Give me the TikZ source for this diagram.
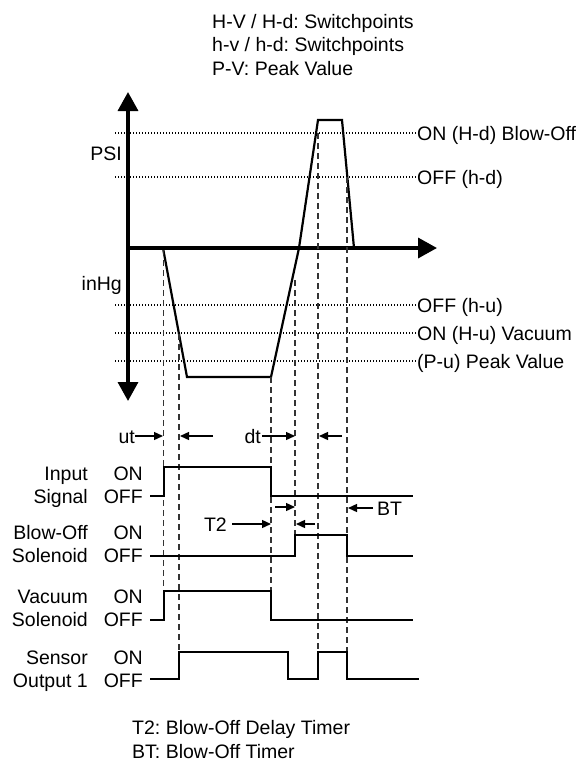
\documentclass[tikz,border=0pt]{standalone}
\usepackage{fontspec}
\setmainfont{Liberation Sans}
\frenchspacing
\usetikzlibrary{arrows.meta}
\tikzset{
  lbl/.style={font=\fontsize{19.5}{22.5}\selectfont, inner sep=0pt, text height=14pt, text depth=0pt},
  rowlbl/.style={font=\fontsize{19.5}{22.5}\selectfont, inner sep=0pt, align=right, anchor=base east},
  legend/.style={font=\fontsize{19.5}{23.5}\selectfont, inner sep=0pt, align=left, anchor=base west},
  axisline/.style={line width=3.5pt},
  bigtip/.tip={Triangle[length=19pt, width=20pt]},
  sig/.style={line width=2.2pt, line join=miter},
  press/.style={line width=2.2pt, line join=miter},
  guide/.style={line width=1.1pt, black!80, dash pattern=on 6pt off 4pt},
  lvl/.style={line width=1.5pt, dash pattern=on 1.4pt off 1.6pt},
  timearr/.style={line width=1.3pt, -{Triangle[length=9pt, width=8pt]}},
}

\begin{document}
\begin{tikzpicture}[x=1pt, y=-1pt]
  \useasboundingbox (0,0) rectangle (580,761);

  \node[legend] (keys) at (212,75) {H-V / H-d: Switchpoints\\h-v / h-d: Switchpoints\\P-V: Peak Value};

  % pressure axes
  \draw[axisline, bigtip-bigtip] (128,92) -- (128,401);
  \draw[axisline, -bigtip] (128,248) -- (437,248);
  \node[lbl, anchor=east] (psi) at (122,153) {PSI};
  \node[lbl, anchor=east] (inhg) at (122,283) {inHg};

  % switch levels
  \node[lbl, anchor=west] (onHd)  at (417,133) {ON (H-d) Blow-Off};
  \node[lbl, anchor=west] (offhd) at (417,177) {OFF (h-d)};
  \node[lbl, anchor=west] (offhu) at (417,305) {OFF (h-u)};
  \node[lbl, anchor=west] (onHu)  at (417,333) {ON (H-u) Vacuum};
  \node[lbl, anchor=west] (peaku) at (417,361) {(P-u) Peak Value};
  \foreach \lv in {onHd, offhd, offhu, onHu, peaku}
    \draw[lvl] (\lv.west -| 115,0) -- (\lv.west);

  \draw[press] (163,248) -- (187,377) -- (271,377) -- (299,248) -- (318,120)
               -- (342,120) -- (354,248);

  % timing guides
  \draw[guide] (163.5,250) -- (163.5,591);
  \draw[guide] (179,334) -- (179,652);
  \draw[guide] (271,377) -- (271,591);
  \draw[guide] (295,280) -- (295,535);
  \draw[guide] (318,133) -- (318,652);
  \draw[guide] (347,177) -- (347,652);

  % delay marks
  \node[lbl, anchor=east] (ut) at (135,436) {ut};
  \coordinate (utEnd) at (163,436);
  \draw[timearr] (ut.east) -- (utEnd);
  \coordinate (utB) at (213,436);
  \coordinate (utBEnd) at (180,436);
  \draw[timearr] (utB) -- (utBEnd);
  \node[lbl, anchor=east] (dt) at (261,436) {dt};
  \coordinate (dtEnd) at (295,436);
  \draw[timearr] ([xshift=1pt]dt.east) -- (dtEnd);
  \coordinate (dtB) at (342,436);
  \coordinate (dtBEnd) at (319,436);
  \draw[timearr] (dtB) -- (dtBEnd);

  \coordinate (bA) at (275,507);
  \coordinate (bAEnd) at (295,507);
  \draw[timearr] (bA) -- (bAEnd);
  \node[lbl, anchor=west] (bt) at (377,508) {BT};
  \coordinate (btEnd) at (348,508);
  \draw[timearr] ([xshift=-4pt]bt.west) -- (btEnd);
  \node[lbl, anchor=east] (t2) at (227,524) {T2};
  \coordinate (t2End) at (271,524);
  \draw[timearr] ([xshift=5pt]t2.east) -- (t2End);
  \coordinate (t2B) at (315,524);
  \coordinate (t2BEnd) at (296,524);
  \draw[timearr] (t2B) -- (t2BEnd);

  % signal rows
  \node[rowlbl] (inlbl)  at (88,503) {Input\\Signal};
  \node[rowlbl] (inst)   at (143,503) {ON\\OFF};
  \draw[sig] (150,496) -| (164,467) -| (271,496) -- (413,496);

  \node[rowlbl] (bolbl)  at (88,562) {Blow-Off\\Solenoid};
  \node[rowlbl] (bost)   at (143,562) {ON\\OFF};
  \draw[sig] (150,556) -| (295,535) -| (347,556) -- (413,556);

  \node[rowlbl] (valbl)  at (88,626) {Vacuum\\Solenoid};
  \node[rowlbl] (vast)   at (143,626) {ON\\OFF};
  \draw[sig] (150,620) -| (164,591) -| (271,620) -- (413,620);

  \node[rowlbl] (selbl)  at (88,687) {Sensor\\Output 1};
  \node[rowlbl] (sest)   at (143,687) {ON\\OFF};
  \draw[sig] (150,679) -| (179,652) -| (288,679) -| (318,652) -| (347,679) -- (419,679);

  \node[legend] (timers) at (132,758) {T2: Blow-Off Delay Timer\\BT: Blow-Off Timer};
\end{tikzpicture}
\end{document}
